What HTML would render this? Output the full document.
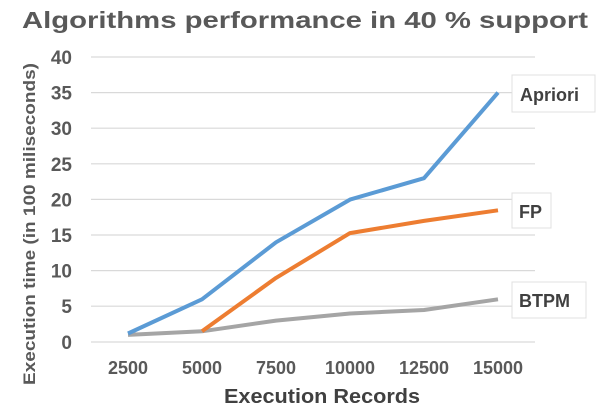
<!DOCTYPE html><html><head><style>body{margin:0;background:#fff}svg{display:block}text{font-family:"Liberation Sans",sans-serif;fill:#595959;font-weight:bold}</style></head><body>
<svg width="603" height="408" viewBox="0 0 603 408">
<text x="305" y="28" font-size="23" text-anchor="middle" textLength="566" lengthAdjust="spacingAndGlyphs">Algorithms performance in 40 % support</text>
<g stroke="#d9d9d9" stroke-width="1.2">
<line x1="91" x2="535" y1="57" y2="57"/><line x1="91" x2="535" y1="92.6" y2="92.6"/><line x1="91" x2="535" y1="128.2" y2="128.2"/><line x1="91" x2="535" y1="163.8" y2="163.8"/><line x1="91" x2="535" y1="199.4" y2="199.4"/><line x1="91" x2="535" y1="235" y2="235"/><line x1="91" x2="535" y1="270.6" y2="270.6"/><line x1="91" x2="535" y1="306.2" y2="306.2"/><line x1="91" x2="535" y1="342" y2="342"/></g>
<g font-size="19" text-anchor="end">
<text x="72" y="64">40</text><text x="72" y="99.6">35</text><text x="72" y="135.2">30</text><text x="72" y="170.8">25</text><text x="72" y="206.4">20</text><text x="72" y="242">15</text><text x="72" y="277.6">10</text><text x="72" y="313.2">5</text><text x="72" y="349">0</text></g>
<g font-size="18" text-anchor="middle">
<text x="128" y="374">2500</text><text x="202" y="374">5000</text><text x="276" y="374">7500</text><text x="350" y="374">10000</text><text x="424" y="374">12500</text><text x="498" y="374">15000</text></g>
<text x="322" y="403" font-size="20" text-anchor="middle" textLength="196" lengthAdjust="spacingAndGlyphs" style="fill:#404040">Execution Records</text>
<text transform="translate(35,224) rotate(-90)" font-size="17" text-anchor="middle" textLength="322" lengthAdjust="spacingAndGlyphs">Execution time (in 100 miliseconds)</text>
<g fill="none" stroke-width="4" stroke-linejoin="round">
<polyline stroke="#a5a5a5" points="128,334.9 202,331.3 276,320.6 350,313.5 424,310 498,299.3"/>
<polyline stroke="#ed7d31" points="202,331.3 276,277.9 350,233.1 424,220.9 498,210.3"/>
<polyline stroke="#5b9bd5" points="128,333.5 202,299.3 276,242.3 350,199.6 424,178.2 498,92.6"/>
</g>
<g fill="#fff" stroke="#e0e0e0">
<rect x="512" y="75" width="83" height="37"/><rect x="512" y="193" width="39" height="35"/><rect x="512" y="282" width="74" height="36"/></g>
<g font-size="18">
<text x="520" y="101" style="fill:#404040">Apriori</text><text x="519" y="218" style="fill:#404040">FP</text><text x="519" y="307" style="fill:#404040">BTPM</text></g>
</svg></body></html>
